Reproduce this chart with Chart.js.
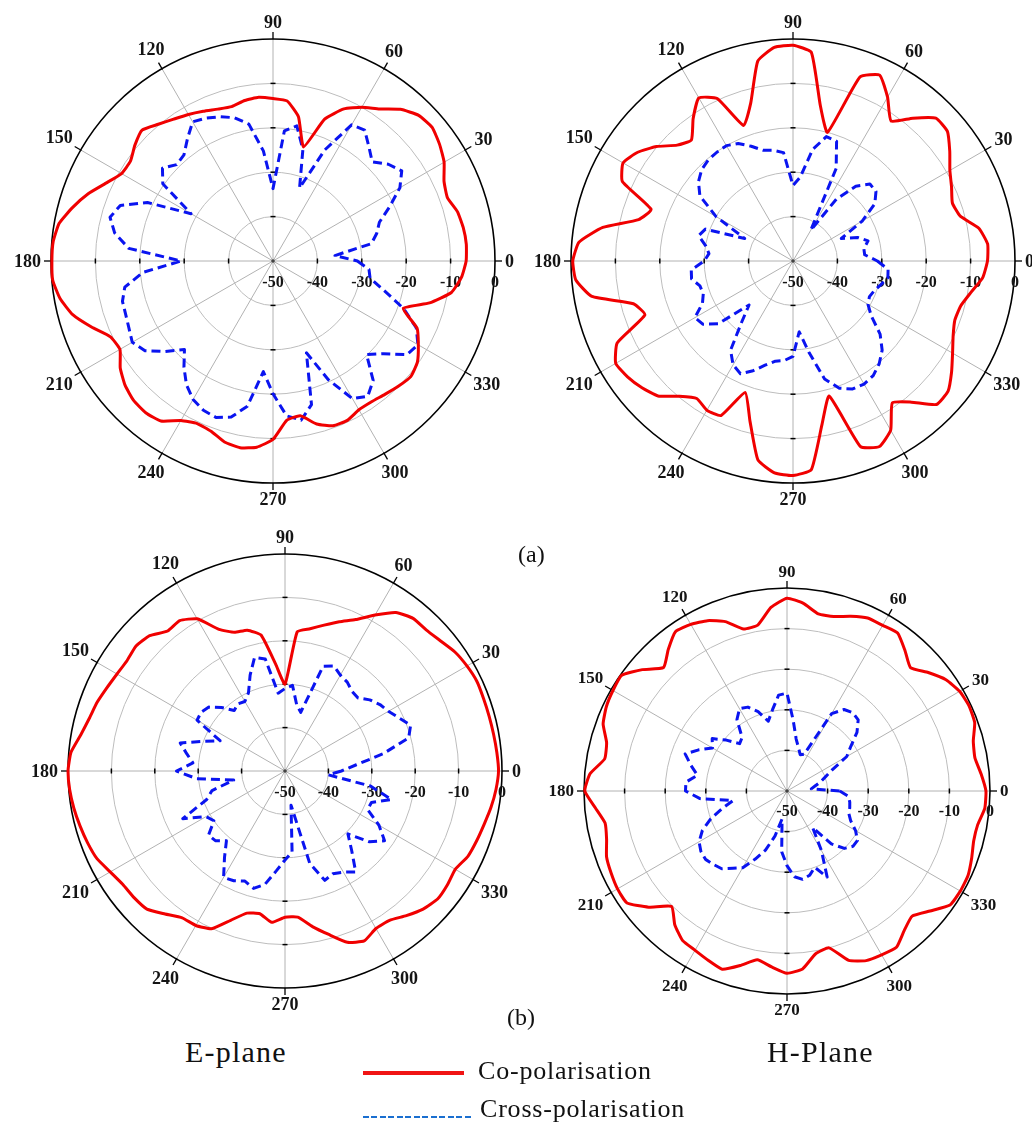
<!DOCTYPE html>
<html>
<head>
<meta charset="utf-8">
<title>E-plane and H-plane radiation patterns</title>
<script src="https://cdn.jsdelivr.net/npm/chart.js@4.4.1/dist/chart.umd.min.js"></script>
<style>
  html, body { margin: 0; padding: 0; background: #fff; }
  body { position: relative; width: 1032px; height: 1131px; overflow: hidden; }
  canvas { position: absolute; }
  .txt { position: absolute; font-family: "Liberation Serif", "Times New Roman", serif; color: #111; white-space: nowrap; line-height: 1; }
  .swatch { position: absolute; }
</style>
</head>
<body>
<canvas id="eA" width="534" height="534" style="left:6px;top:-6px"></canvas>
<canvas id="hA" width="534" height="534" style="left:526px;top:-6px"></canvas>
<canvas id="eB" width="524" height="524" style="left:23px;top:509px"></canvas>
<canvas id="hB" width="496" height="496" style="left:539px;top:543px"></canvas>

<div class="txt" style="left:518px;top:542px;font-size:24px">(a)</div>
<div class="txt" style="left:507px;top:1005px;font-size:24px">(b)</div>
<div class="txt" style="left:185px;top:1037px;font-size:30px;letter-spacing:1.2px">E-plane</div>
<div class="txt" style="left:767px;top:1037px;font-size:30px;letter-spacing:1.2px">H-Plane</div>

<div class="swatch" style="left:363px;top:1071px;width:101px;height:4px;background:#f01414"></div>
<div class="txt" style="left:478px;top:1058px;font-size:26px;letter-spacing:0.8px">Co-polarisation</div>
<div class="swatch" style="left:363px;top:1116px;width:110px;height:2px;background:repeating-linear-gradient(to right,#1a6fd0 0 6px,transparent 6px 8.5px)"></div>
<div class="txt" style="left:480px;top:1096px;font-size:26px;letter-spacing:0.8px">Cross-polarisation</div>

<script>
// Angular positions of the samples (degrees, counter-clockwise from 0° on the right)
const angles = [
  0, 5, 10, 15, 20, 25, 30, 35, 40, 45, 50, 55,
  60, 65, 70, 75, 80, 85, 90, 95, 100, 105, 110, 115,
  120, 125, 130, 135, 140, 145, 150, 155, 160, 165, 170, 175,
  180, 185, 190, 195, 200, 205, 210, 215, 220, 225, 230, 235,
  240, 245, 250, 255, 260, 265, 270, 275, 280, 285, 290, 295,
  300, 305, 310, 315, 320, 325, 330, 335, 340, 345, 350, 355
];

// Labelled angle ticks and radial (dB) ticks
const angleTicks = [0, 30, 60, 90, 120, 150, 180, 210, 240, 270, 300, 330];
const dbTicks = [-50, -40, -30, -20, -10, 0];

// (a) E-plane, normalised gain in dB
const eCoA = [
  -6.5, -6.3, -6.5, -7.0, -8.2, -7.5, -5.5, -4.2, -3.2, -3.6, -5.4, -8.2,
  -10.0, -12.2, -16.0, -23.4, -17.0, -13.8, -13.4, -13.0, -13.3, -14.0, -13.6, -12.8,
  -11.9, -11.0, -9.8, -8.3, -9.4, -10.8, -10.6, -8.5, -5.7, -3.3, -1.1, -0.3,
  -0.2, -0.2, -1.3, -3.3, -6.5, -9.6, -10.2, -8.0, -6.5, -5.6, -5.4, -6.0,
  -8.5, -9.6, -9.2, -7.8, -7.3, -7.9, -9.8, -14.0, -14.6, -12.0, -10.5, -10.4,
  -11.3, -11.3, -10.8, -10.1, -9.5, -10.3, -12.2, -14.2, -18.8, -13.5, -9.2, -7.4
];
const eCrossA = [
  -31.0, -36.0, -27.5, -25.8, -24.5, -21.0, -17.0, -14.6, -16.1, -18.4, -16.4, -14.0,
  -14.6, -22.4, -32.5, -24.0, -19.1, -20.6, -33.7, -25.1, -18.7, -16.6, -15.4, -14.5,
  -13.8, -16.4, -18.8, -19.3, -17.5, -19.7, -28.7, -18.8, -13.4, -12.0, -13.8, -17.4,
  -29.3, -20.6, -16.1, -14.9, -14.7, -14.2, -13.4, -14.8, -18.3, -21.8, -18.8, -16.0,
  -14.0, -12.9, -12.5, -13.6, -16.8, -25.0, -20.1, -15.0, -13.6, -16.5, -28.0, -20.5,
  -14.2, -12.8, -14.9, -20.2, -17.5, -13.2, -12.3, -14.4, -18.7, -24.0, -27.8, -28.3
];

// (a) H-plane
const hCoA = [
  -6.2, -6.0, -7.5, -11.0, -11.8, -10.6, -9.2, -6.9, -4.6, -4.5, -8.0, -11.5,
  -7.4, -3.8, -5.9, -20.0, -14.5, -2.8, -1.4, -1.7, -4.3, -13.2, -17.5, -9.6,
  -7.6, -10.8, -14.4, -13.1, -9.9, -7.3, -5.8, -7.6, -16.0, -14.0, -6.5, -1.6,
  -0.4, -0.9, -4.0, -12.8, -14.5, -6.3, -3.9, -4.5, -5.6, -7.0, -10.2, -12.2,
  -11.2, -11.6, -18.5, -12.6, -4.5, -2.1, -1.7, -2.8, -12.5, -18.5, -5.5, -3.9,
  -6.0, -11.0, -8.5, -4.3, -4.4, -6.4, -8.5, -10.2, -11.2, -10.9, -9.3, -7.1
];
const hCrossA = [
  -31.0, -33.8, -33.8, -32.5, -34.5, -38.0, -32.0, -27.5, -25.6, -25.5, -28.0, -33.0,
  -42.0, -27.0, -21.3, -21.0, -24.5, -31.0, -33.0, -25.5, -24.7, -24.2, -22.5, -20.8,
  -20.0, -20.1, -20.3, -20.9, -22.2, -24.4, -30.0, -38.0, -29.0, -28.0, -30.0, -31.0,
  -30.0, -27.0, -26.8, -28.3, -28.5, -27.5, -24.5, -25.2, -28.0, -36.0, -32.0, -25.5,
  -23.0, -22.0, -23.7, -25.7, -27.1, -27.5, -28.5, -34.0, -29.0, -22.5, -19.5, -18.2,
  -18.0, -18.5, -19.8, -21.6, -24.4, -28.5, -30.5, -31.0, -30.5, -29.5, -28.3, -28.5
];

// (b) E-plane
const eCoB = [
  -0.8, -1.0, -1.2, -1.3, -1.3, -1.2, -1.6, -2.2, -3.3, -4.0, -4.1, -5.4,
  -8.5, -11.5, -13.4, -15.2, -16.7, -17.8, -30.0, -25.3, -18.2, -16.4, -16.0, -14.0,
  -9.5, -7.7, -7.9, -5.9, -5.2, -5.6, -5.3, -4.7, -3.9, -3.3, -2.2, -0.5,
  0.0, -0.2, -0.6, -1.1, -1.6, -2.2, -3.5, -4.4, -4.6, -5.0, -7.0, -8.7,
  -8.9, -9.9, -13.4, -16.1, -16.6, -15.0, -16.3, -16.2, -13.6, -11.0, -8.0, -6.8,
  -8.1, -8.0, -6.5, -5.0, -4.1, -4.3, -4.7, -3.5, -3.0, -2.5, -1.8, -1.2
];
const eCrossB = [
  -37.0, -33.5, -27.0, -20.5, -19.2, -21.0, -22.5, -23.3, -24.5, -26.2, -26.0, -25.0,
  -24.5, -23.3, -24.3, -36.0, -34.5, -30.2, -31.0, -32.0, -23.8, -22.9, -26.5, -30.1,
  -31.5, -31.1, -31.8, -29.3, -27.1, -26.4, -26.6, -33.5, -30.0, -25.0, -27.0, -28.7,
  -25.0, -29.6, -38.0, -32.6, -30.8, -24.0, -29.0, -30.0, -27.0, -27.3, -29.0, -25.7,
  -21.7, -22.1, -23.0, -22.0, -23.5, -26.9, -29.5, -31.3, -42.0, -28.0, -23.2, -23.9,
  -23.1, -21.6, -26.1, -29.5, -24.6, -22.0, -25.0, -29.0, -28.8, -24.6, -30.0, -40.0
];

// (b) H-plane
const hCoB = [
  -1.0, -2.0, -3.0, -2.5, -0.8, -0.5, -0.9, -2.2, -4.6, -7.0, -4.8, -2.5,
  -2.9, -3.0, -4.2, -5.5, -5.7, -3.6, -2.5, -4.6, -8.5, -8.7, -5.6, -3.7,
  -2.6, -2.1, -4.5, -7.0, -3.5, -0.3, -0.5, -0.9, -1.8, -4.0, -4.4, -1.3,
  -0.2, -2.6, -4.5, -4.0, -2.7, -2.2, -1.8, -1.9, -5.5, -9.8, -7.0, -5.1,
  -4.7, -4.0, -3.3, -5.5, -7.8, -6.5, -5.1, -6.0, -9.3, -10.0, -5.6, -3.9,
  -3.4, -3.0, -5.1, -6.4, -4.0, -1.0, -0.7, -0.8, -1.6, -2.4, -2.3, -1.1
];
const hCrossB = [
  -37.0, -44.0, -43.0, -41.5, -40.0, -37.8, -33.0, -30.8, -27.5, -25.2, -24.8, -25.5,
  -28.0, -40.0, -40.5, -39.0, -37.0, -32.5, -25.9, -26.3, -29.6, -32.2, -29.2, -27.2,
  -26.6, -28.5, -32.8, -33.5, -30.5, -27.5, -28.8, -26.0, -23.3, -25.5, -27.6, -25.0,
  -25.0, -28.5, -36.5, -33.5, -30.0, -27.0, -25.0, -24.1, -23.8, -24.4, -25.0, -26.8,
  -28.2, -31.5, -34.5, -38.5, -43.0, -35.0, -31.6, -28.8, -27.9, -28.5, -30.0, -26.6,
  -33.0, -39.0, -33.0, -30.0, -28.8, -28.8, -30.5, -32.7, -33.8, -34.0, -34.3, -34.8
];

const RED = '#f00000';
const BLUE = '#0a14f0';
const MARGIN = 45;

// Draws the polar frame details: spoke tick marks, axis ticks, angle labels and dB labels
const polarFrame = {
  id: 'polarFrame',
  beforeDatasetsDraw(chart, args, opts) {
    const s = chart.scales.r;
    const ctx = chart.ctx;
    const cx = s.xCenter, cy = s.yCenter;
    const R = s.getDistanceFromCenterForValue(s.max);
    const rad = a => a * Math.PI / 180;
    ctx.save();

    // short black marks just outside the outer circle on every labelled spoke
    ctx.strokeStyle = '#000';
    ctx.lineWidth = 1.3;
    angleTicks.forEach(a => {
      const c = Math.cos(rad(a)), sn = Math.sin(rad(a));
      ctx.beginPath();
      ctx.moveTo(cx + c * (R - 1), cy - sn * (R - 1));
      ctx.lineTo(cx + c * (R + 7), cy - sn * (R + 7));
      ctx.stroke();
    });

    // small marks where the rings cross the main axes
    ctx.lineWidth = 1.5;
    dbTicks.forEach(v => {
      const r = s.getDistanceFromCenterForValue(v);
      if (r <= 0 || v === s.max) return;
      [0, 90, 180, 270].forEach(a => {
        const c = Math.cos(rad(a)), sn = Math.sin(rad(a));
        const px = cx + c * r, py = cy - sn * r;
        ctx.beginPath();
        ctx.moveTo(px - sn * 2.5, py - c * 2.5);
        ctx.lineTo(px + sn * 2.5, py + c * 2.5);
        ctx.stroke();
      });
    });
    ctx.fillStyle = '#444';
    ctx.beginPath();
    ctx.arc(cx, cy, 1.8, 0, Math.PI * 2);
    ctx.fill();

    // angle labels around the outside
    ctx.fillStyle = '#141414';
    ctx.textAlign = 'center';
    ctx.textBaseline = 'middle';
    ctx.font = 'bold ' + opts.angleFont + 'px "Liberation Serif", "Times New Roman", serif';
    angleTicks.forEach(a => {
      const c = Math.cos(rad(a)), sn = Math.sin(rad(a));
      const text = String(a);
      const w = ctx.measureText(text).width;
      const h = opts.angleFont * 0.7;
      const d = R + 10 + Math.abs(c) * w / 2 + Math.abs(sn) * h / 2;
      ctx.fillText(text, cx + c * d, cy - sn * d + 1);
    });

    // dB labels below the 0° axis
    ctx.font = 'bold ' + opts.tickFont + 'px "Liberation Serif", "Times New Roman", serif';
    dbTicks.forEach(v => {
      const r = s.getDistanceFromCenterForValue(v);
      ctx.fillText(String(v), cx + r, cy + opts.tickOffset);
    });
    ctx.restore();
  }
};

function makePolar(id, co, cross, cfg) {
  const n = angles.length;
  // the radar scale runs clockwise from startAngle, so walk the samples backwards
  const order = angles.map((_, i) => (n - i) % n);
  const labels = order.map(k => angles[k]);
  const coData = order.map(k => co[k]);
  const crossData = order.map(k => cross[k]);

  return new Chart(document.getElementById(id), {
    type: 'radar',
    data: {
      labels: labels,
      datasets: [
        {
          label: 'Co-polarisation',
          data: coData,
          borderColor: RED,
          backgroundColor: 'transparent',
          borderWidth: 3,
          pointRadius: 0,
          fill: false,
          tension: 0.15,
          clip: false,
          borderJoinStyle: 'round'
        },
        {
          label: 'Cross-polarisation',
          data: crossData,
          borderColor: BLUE,
          backgroundColor: 'transparent',
          borderWidth: 3,
          borderDash: [9, 5],
          pointRadius: 0,
          fill: false,
          tension: 0,
          clip: false,
          borderJoinStyle: 'round'
        }
      ]
    },
    options: {
      responsive: false,
      animation: false,
      devicePixelRatio: 1,
      layout: { padding: MARGIN },
      plugins: {
        legend: { display: false },
        tooltip: { enabled: false },
        polarFrame: cfg
      },
      scales: {
        r: {
          min: -50,
          max: 0,
          startAngle: 90,
          ticks: { display: false, stepSize: 10 },
          pointLabels: { display: false },
          grid: {
            circular: true,
            color: c => (c.tick && c.tick.value === 0) ? '#000000' : '#bdbdbd',
            lineWidth: c => (c.tick && c.tick.value === 0) ? 1.6 : 1
          },
          angleLines: {
            display: true,
            color: '#b2b2b2',
            lineWidth: c => (labels[c.index] % 30 === 0) ? 1 : 0
          }
        }
      }
    },
    plugins: [polarFrame]
  });
}

makePolar('eA', eCoA, eCrossA, { angleFont: 18, tickFont: 16, tickOffset: 22 });
makePolar('hA', hCoA, hCrossA, { angleFont: 18, tickFont: 16, tickOffset: 22 });
makePolar('eB', eCoB, eCrossB, { angleFont: 18, tickFont: 16, tickOffset: 22 });
makePolar('hB', hCoB, hCrossB, { angleFont: 17, tickFont: 16, tickOffset: 21 });
</script>
</body>
</html>
